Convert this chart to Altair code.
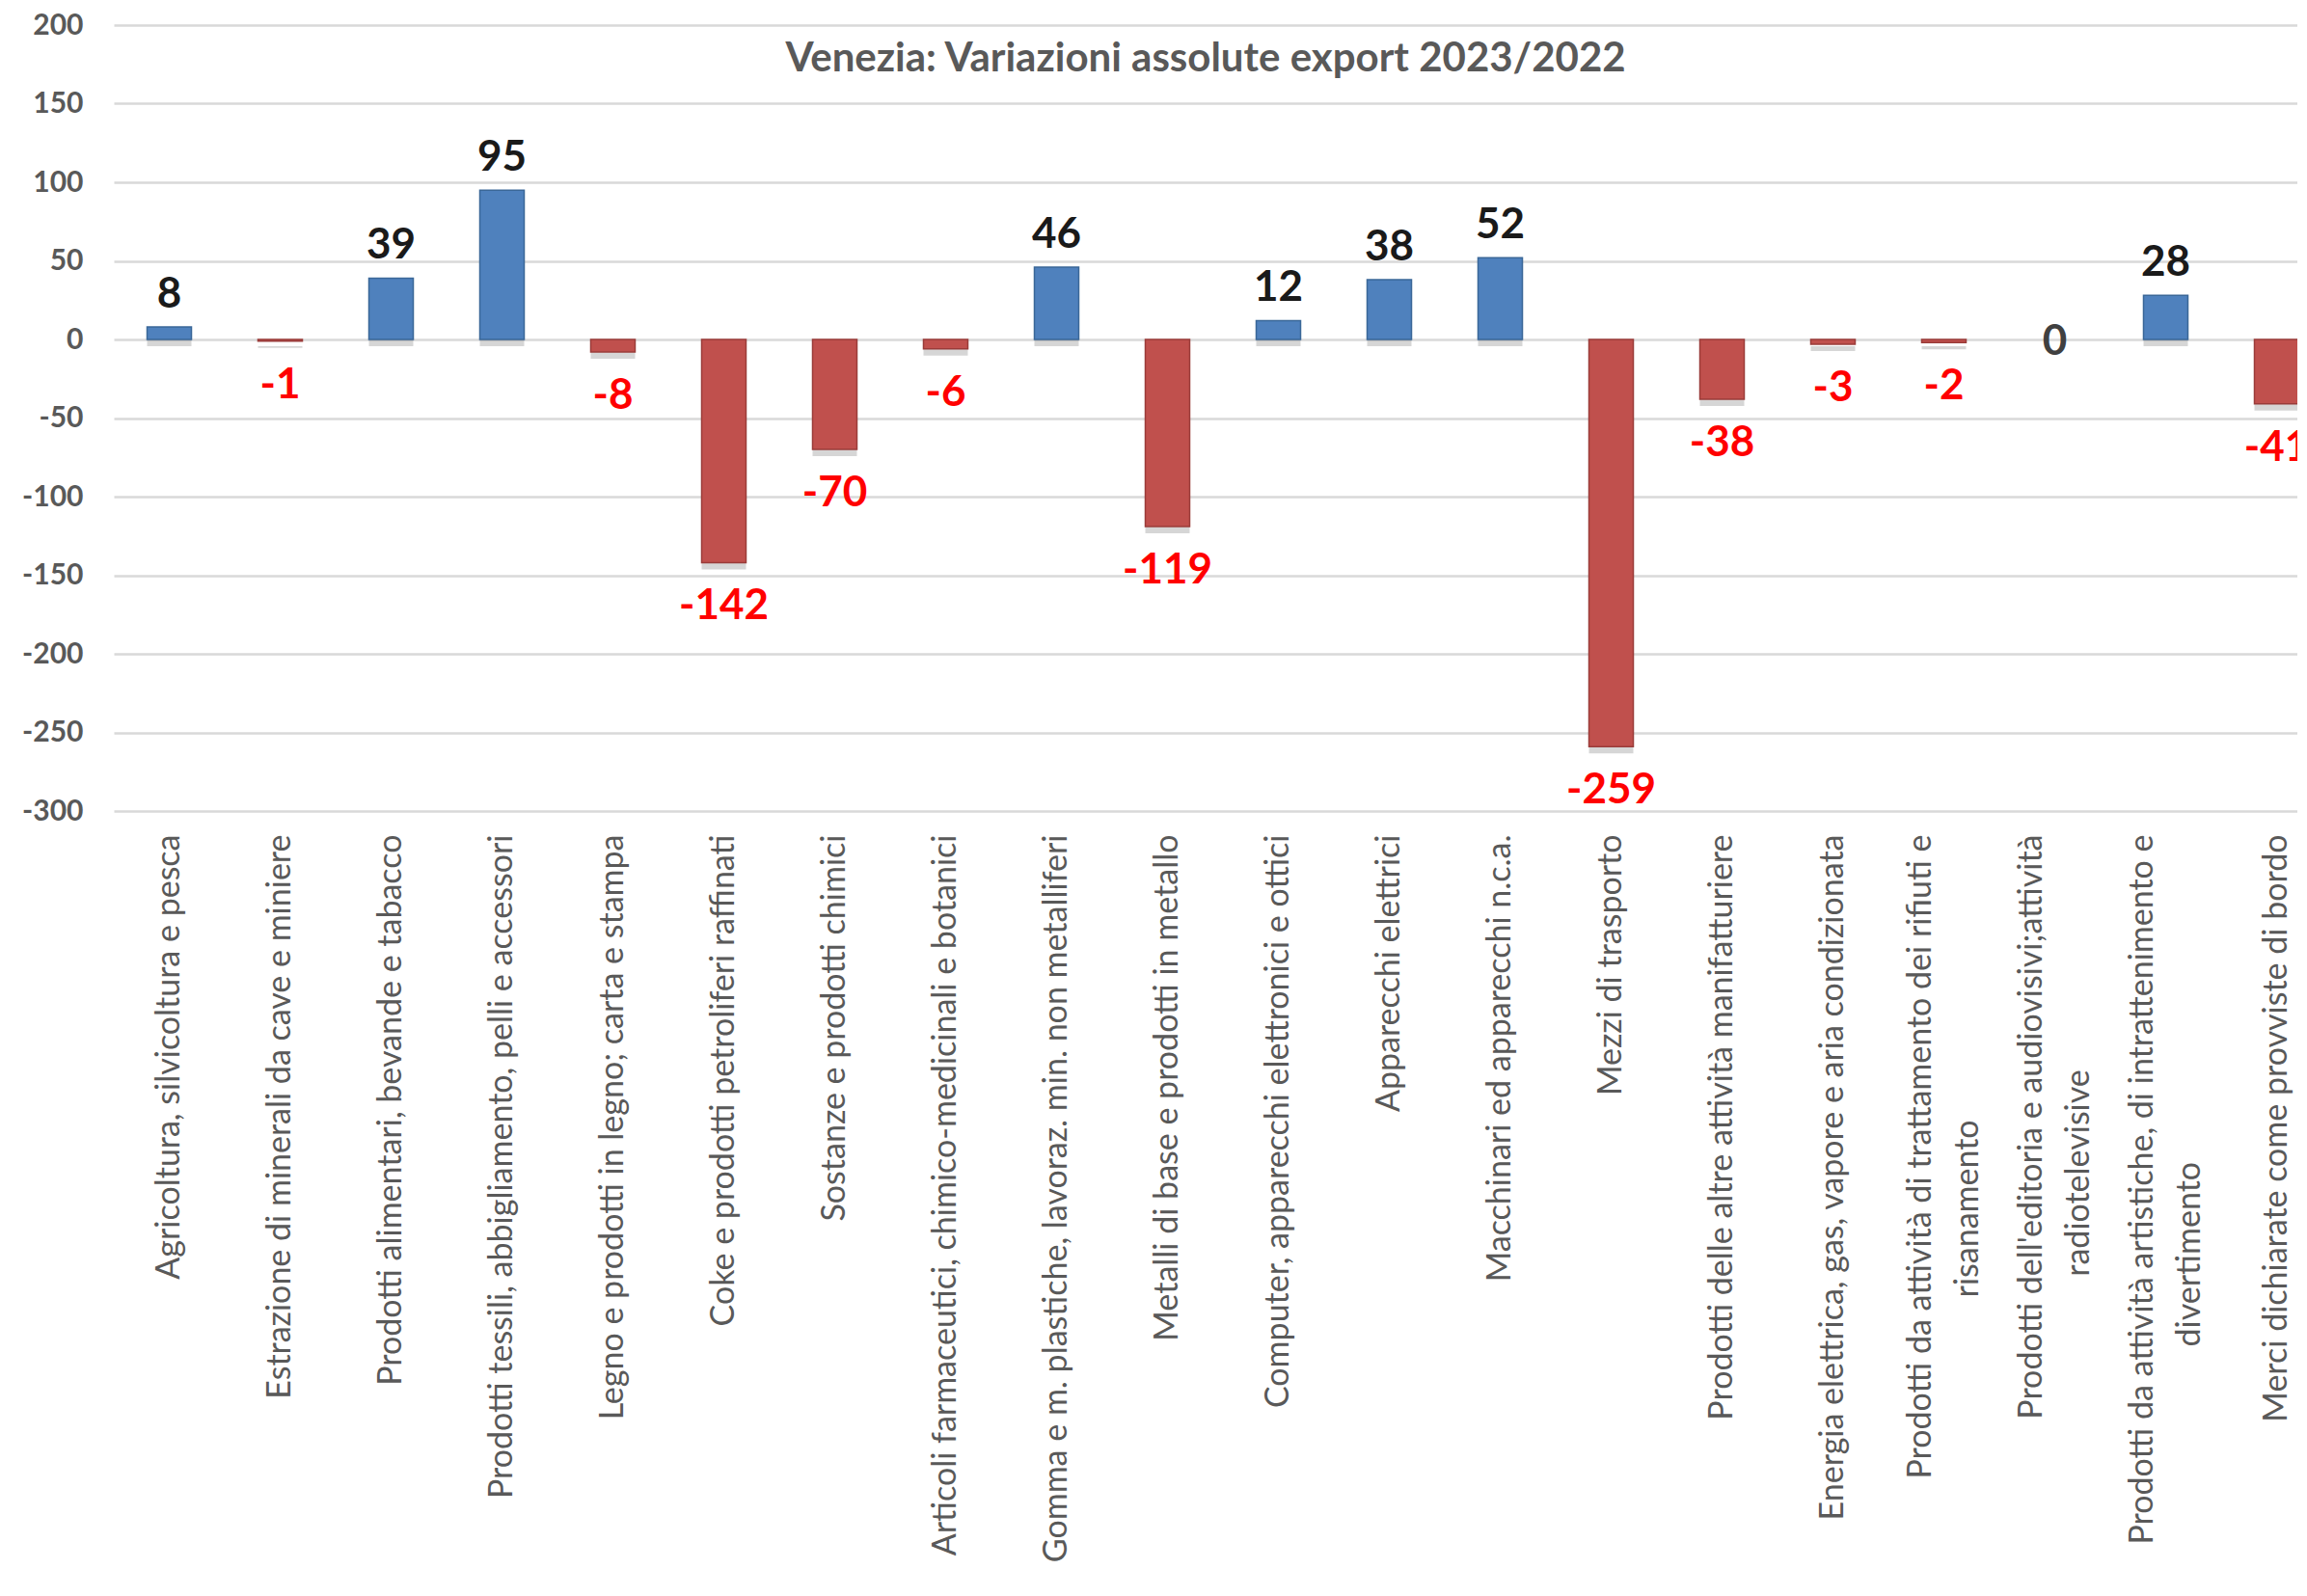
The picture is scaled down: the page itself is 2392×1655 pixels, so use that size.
import altair as alt
import pandas as pd

# ---- data ----
tick_labels = [
    "Agricoltura, silvicoltura e pesca",
    "Estrazione di minerali da cave e miniere",
    "Prodotti alimentari, bevande e tabacco",
    "Prodotti tessili, abbigliamento, pelli e accessori",
    "Legno e prodotti in legno; carta e stampa",
    "Coke e prodotti petroliferi raffinati",
    "Sostanze e prodotti chimici",
    "Articoli farmaceutici, chimico-medicinali e botanici",
    "Gomma e m. plastiche, lavoraz. min. non metalliferi",
    "Metalli di base e prodotti in metallo",
    "Computer, apparecchi elettronici e ottici",
    "Apparecchi elettrici",
    "Macchinari ed apparecchi n.c.a.",
    "Mezzi di trasporto",
    "Prodotti delle altre attività manifatturiere",
    "Energia elettrica, gas, vapore e aria condizionata",
    "Prodotti da attività di trattamento dei rifiuti e\nrisanamento",
    "Prodotti dell'editoria e audiovisivi;attività\nradiotelevisive",
    "Prodotti da attività artistiche, di intrattenimento e\ndivertimento",
    "Merci dichiarate come provviste di bordo",
]
values = [8, -1, 39, 95, -8, -142, -70, -6, 46, -119, 12, 38, 52, -259, -38, -3, -2, 0, 28, -41]
y_ticks = [-300, -250, -200, -150, -100, -50, 0, 50, 100, 150, 200]
title_text = "Venezia: Variazioni assolute export 2023/2022"

FONT = "Lato"
GRAY = "#595959"


# rough Lato advance widths (em) to centre the wrapped second line under the first
def text_em(s):
    w = 0.0
    for ch in s:
        if ch in "il'j":
            w += 0.23
        elif ch in " ,;.":
            w += 0.2
        elif ch in "f":
            w += 0.31
        elif ch in "t":
            w += 0.34
        elif ch in "r":
            w += 0.36
        elif ch in "m":
            w += 0.81
        elif ch in "w":
            w += 0.73
        elif ch.isupper():
            w += 0.62
        else:
            w += 0.5
    return w


def centred(label):
    lines = label.split("\n")
    if len(lines) < 2:
        return label
    first, second = lines[0], lines[1]
    pad = (text_em(first) - text_em(second)) / 2.0
    n = max(0, int(round(pad / 0.193)))
    # trailing no-break spaces, closed by a word joiner so they are not trimmed
    return first + "\n" + second + "\u00a0" * n + "\u2060"


df = pd.DataFrame({
    "label": [centred(t) for t in tick_labels],
    "value": values,
    "txt": [str(v) for v in values],
})

W = 2264
H = 815
STEP_RANGE = 2300  # the category band runs past the right edge, as in the cropped reference

x_enc = alt.X(
    "label:N",
    sort=None,
    title=None,
    scale=alt.Scale(range=[0, STEP_RANGE], paddingInner=0.6, paddingOuter=0.3),
    axis=alt.Axis(
        labelAngle=-90,
        labelAlign="right",
        labelBaseline="middle",
        labelExpr="split(datum.label, '\\n')",
        labelFont=FONT,
        labelFontSize=34,
        labelColor=GRAY,
        labelLimit=2000,
        labelLineHeight=49,
        labelPadding=24,
        labelOffset={"condition": {"test": "indexof(datum.value, '\\n') >= 0", "value": -24}, "value": 0},
        labelOverlap=False,
        ticks=False,
        tickSize=0,
        domain=False,
        grid=False,
    ),
)
y_enc = alt.Y(
    "value:Q",
    title=None,
    scale=alt.Scale(domain=[-300, 200], nice=False),
    axis=alt.Axis(
        values=y_ticks,
        labelExpr="datum.value + ''",
        labelFont=FONT,
        labelFontSize=30,
        labelFontWeight="bold",
        labelColor=GRAY,
        labelPadding=32,
        ticks=False,
        domain=False,
        grid=True,
        gridColor="#D9D9D9",
        gridWidth=2.5,
    ),
)

base = alt.Chart(df)

shadow = base.mark_bar(color="#000000", opacity=0.16, yOffset=7).encode(x=x_enc, y=y_enc)

bars = base.mark_bar(strokeWidth=1.5).encode(
    x=x_enc,
    y=y_enc,
    color=alt.condition("datum.value < 0", alt.value("#C0504D"), alt.value("#4F81BD")),
    stroke=alt.condition("datum.value < 0", alt.value("#9A3C3A"), alt.value("#3A6798")),
    strokeOpacity=alt.condition("datum.value == 0", alt.value(0), alt.value(1)),
)

pos_lbl = base.transform_filter("datum.value > 0").mark_text(
    dy=-33, baseline="middle", align="center", font=FONT, fontSize=44,
    fontWeight="bold", color="#1a1a1a",
).encode(x=x_enc, y=y_enc, text="txt:N")

neg_lbl = base.transform_filter("datum.value < 0").mark_text(
    dy=46, baseline="middle", align="center", font=FONT, fontSize=44,
    fontWeight="bold", color="#FF0000",
).encode(x=x_enc, y=y_enc, text="txt:N")

zero_lbl = base.transform_filter("datum.value == 0").mark_text(
    dy=3, baseline="middle", align="center", font=FONT, fontSize=44,
    fontWeight="bold", color="#404040",
).encode(x=x_enc, y=y_enc, text="txt:N")

chart = alt.layer(shadow, bars, pos_lbl, neg_lbl, zero_lbl).properties(
    width=W,
    height=H,
    title=alt.TitleParams(
        text=title_text,
        font=FONT,
        fontSize=42,
        fontWeight="bold",
        color=GRAY,
        anchor="middle",
        frame="group",
        baseline="middle",
        offset=-92,
    ),
    autosize=alt.AutoSizeParams(type="none"),
    padding={"left": 110, "top": 18, "right": 0, "bottom": 797},
    background="white",
).configure_view(stroke=None)

chart.save("out.html", embed_options={"renderer": "svg", "actions": False})
